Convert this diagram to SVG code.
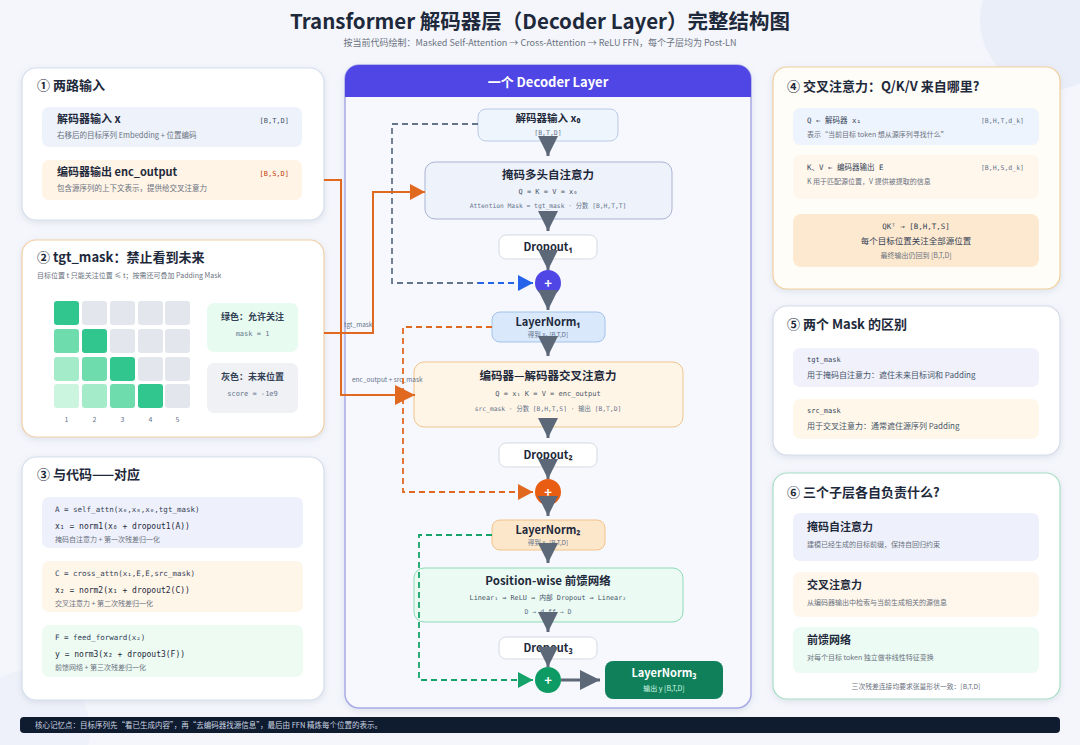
<svg xmlns="http://www.w3.org/2000/svg" width="1080" height="745" viewBox="0 0 1080 745">
<style>
text{font-family:"Noto Sans CJK SC","Noto Sans",sans-serif;fill:#1e293b}
.m{font-family:"DejaVu Sans Mono","Liberation Mono","Noto Sans CJK SC",monospace}
.pt{font-size:13px;font-weight:700}
.st{font-size:11px;font-weight:700}
.d{font-size:7.5px;fill:#6b7280}
.sm{font-size:7px;fill:#64748b}
.c{text-anchor:middle}
.r{text-anchor:end}
.panel{fill:#ffffff;stroke-width:1.2}
.nt{font-size:11.5px;font-weight:700;text-anchor:middle}
.flow{stroke:#5c6778;stroke-width:3;fill:none;marker-end:url(#ag)}
.inp{stroke:#e0691f;stroke-width:2;fill:none}
</style>
<defs>
<marker id="ag" markerUnits="userSpaceOnUse" markerWidth="22" markerHeight="22" viewBox="0 0 22 22" refX="20" refY="11" orient="auto"><path d="M0,1 L20,11 L0,21 z" fill="#5c6778"/></marker>
<marker id="ab" markerUnits="userSpaceOnUse" markerWidth="16" markerHeight="16" viewBox="0 0 16 16" refX="15" refY="8" orient="auto"><path d="M0,0 L15,8 L0,16 z" fill="#2563eb"/></marker>
<marker id="ao" markerUnits="userSpaceOnUse" markerWidth="16" markerHeight="16" viewBox="0 0 16 16" refX="15" refY="8" orient="auto"><path d="M0,0 L15,8 L0,16 z" fill="#e0691f"/></marker>
<marker id="aoL" markerUnits="userSpaceOnUse" markerWidth="22" markerHeight="22" viewBox="0 0 22 22" refX="20" refY="11" orient="auto"><path d="M0,1 L20,11 L0,21 z" fill="#e0691f"/></marker>
<marker id="agr" markerUnits="userSpaceOnUse" markerWidth="16" markerHeight="16" viewBox="0 0 16 16" refX="15" refY="8" orient="auto"><path d="M0,0 L15,8 L0,16 z" fill="#16a36a"/></marker>
<filter id="sh" x="-10%" y="-10%" width="120%" height="125%"><feDropShadow dx="0" dy="2" stdDeviation="3" flood-color="#94a3b8" flood-opacity="0.25"/></filter>
</defs>

<rect width="1080" height="745" fill="#f4f6fb"/>
<circle cx="1050" cy="20" r="70" fill="#e6ebf7" opacity="0.7"/>
<circle cx="30" cy="730" r="60" fill="#e9eef8" opacity="0.6"/>

<g id="title">
<text x="540" y="29" class="c" style="font-size:20.5px;font-weight:700">Transformer 解码器层（Decoder Layer）完整结构图</text>
<text x="540" y="46" class="c" style="font-size:9px;fill:#6b7280">按当前代码绘制：Masked Self-Attention → Cross-Attention → ReLU FFN，每个子层均为 Post-LN</text>
</g>

<!-- Panel 1 -->
<g id="panel-inputs">
<rect x="22" y="68" width="302" height="152" rx="14" class="panel" stroke="#d6deec" filter="url(#sh)"/>
<text x="37" y="90" class="pt">① 两路输入</text>
<rect x="42" y="107" width="260" height="40" rx="7" fill="#edf2fb"/>
<text x="57" y="123" class="st">解码器输入 x</text>
<text x="289" y="123" class="m r" style="font-size:7px;fill:#475569">[B,T,D]</text>
<text x="57" y="138" class="d">右移后的目标序列 Embedding + 位置编码</text>
<rect x="42" y="160" width="260" height="40" rx="7" fill="#fff4e6"/>
<text x="57" y="176" class="st">编码器输出 enc_output</text>
<text x="289" y="176" class="m r" style="font-size:7px;fill:#c2410c">[B,S,D]</text>
<text x="57" y="191" class="d">包含源序列的上下文表示，提供给交叉注意力</text>
</g>

<!-- Panel 2 -->
<g id="panel-mask">
<rect x="22" y="240" width="302" height="197" rx="14" class="panel" stroke="#f2cfa6" filter="url(#sh)"/>
<text x="37" y="262" class="pt">② tgt_mask：禁止看到未来</text>
<text x="37" y="278" class="d" style="font-size:7px">目标位置 t 只能关注位置 ≤ t；按需还可叠加 Padding Mask</text>
<g>
<rect x="54" y="301" width="25" height="24" rx="3" fill="#31c68d"/>
<rect x="82" y="301" width="25" height="24" rx="3" fill="#e3e6ec"/>
<rect x="110" y="301" width="25" height="24" rx="3" fill="#e3e6ec"/>
<rect x="138" y="301" width="25" height="24" rx="3" fill="#e3e6ec"/>
<rect x="165" y="301" width="25" height="24" rx="3" fill="#e3e6ec"/>
<rect x="54" y="329" width="25" height="24" rx="3" fill="#6fdcae"/>
<rect x="82" y="329" width="25" height="24" rx="3" fill="#31c68d"/>
<rect x="110" y="329" width="25" height="24" rx="3" fill="#e3e6ec"/>
<rect x="138" y="329" width="25" height="24" rx="3" fill="#e3e6ec"/>
<rect x="165" y="329" width="25" height="24" rx="3" fill="#e3e6ec"/>
<rect x="54" y="357" width="25" height="24" rx="3" fill="#a4ebca"/>
<rect x="82" y="357" width="25" height="24" rx="3" fill="#6fdcae"/>
<rect x="110" y="357" width="25" height="24" rx="3" fill="#31c68d"/>
<rect x="138" y="357" width="25" height="24" rx="3" fill="#e3e6ec"/>
<rect x="165" y="357" width="25" height="24" rx="3" fill="#e3e6ec"/>
<rect x="54" y="384" width="25" height="24" rx="3" fill="#cbf5df"/>
<rect x="82" y="384" width="25" height="24" rx="3" fill="#a4ebca"/>
<rect x="110" y="384" width="25" height="24" rx="3" fill="#6fdcae"/>
<rect x="138" y="384" width="25" height="24" rx="3" fill="#31c68d"/>
<rect x="165" y="384" width="25" height="24" rx="3" fill="#e3e6ec"/>
</g>
<text x="66.5" y="422" class="c sm">1</text>
<text x="94.5" y="422" class="c sm">2</text>
<text x="122.5" y="422" class="c sm">3</text>
<text x="150.5" y="422" class="c sm">4</text>
<text x="177.5" y="422" class="c sm">5</text>
<rect x="207" y="303" width="91" height="49" rx="7" fill="#e8fbf1"/>
<text x="252.5" y="320" class="c" style="font-size:9px;font-weight:700;fill:#334155">绿色：允许关注</text>
<text x="252.5" y="336" class="c m sm">mask = 1</text>
<rect x="207" y="363" width="91" height="50" rx="7" fill="#eff1f5"/>
<text x="252.5" y="380" class="c" style="font-size:9px;font-weight:700;fill:#334155">灰色：未来位置</text>
<text x="252.5" y="396" class="c m sm">score = -1e9</text>
</g>

<!-- Panel 3 -->
<g id="panel-code">
<rect x="22" y="457" width="302" height="243" rx="14" class="panel" stroke="#d6deec" filter="url(#sh)"/>
<text x="37" y="479" class="pt">③ 与代码——对应</text>
<rect x="42" y="497" width="261" height="51" rx="7" fill="#eef1fb"/>
<text x="55" y="512" class="m" style="font-size:7.5px;fill:#334155">A = self_attn(x₀,x₀,x₀,tgt_mask)</text>
<text x="55" y="529" class="m" style="font-size:8px;fill:#1e293b">x₁ = norm1(x₀ + dropout1(A))</text>
<text x="55" y="542" class="d" style="font-size:7px">掩码自注意力 + 第一次残差归一化</text>
<rect x="42" y="561" width="261" height="51" rx="7" fill="#fff6ea"/>
<text x="55" y="576" class="m" style="font-size:7.5px;fill:#334155">C = cross_attn(x₁,E,E,src_mask)</text>
<text x="55" y="593" class="m" style="font-size:8px;fill:#1e293b">x₂ = norm2(x₁ + dropout2(C))</text>
<text x="55" y="606" class="d" style="font-size:7px">交叉注意力 + 第二次残差归一化</text>
<rect x="42" y="625" width="261" height="52" rx="7" fill="#edfbf3"/>
<text x="55" y="640" class="m" style="font-size:7.5px;fill:#334155">F = feed_forward(x₂)</text>
<text x="55" y="657" class="m" style="font-size:8px;fill:#1e293b">y = norm3(x₂ + dropout3(F))</text>
<text x="55" y="670" class="d" style="font-size:7px">前馈网络 + 第三次残差归一化</text>
</g>

<!-- Center panel -->
<g id="decoder-layer">
<rect x="345" y="65" width="406" height="643" rx="14" fill="#f7f8fd" stroke="#a9abe6" stroke-width="1.5" filter="url(#sh)"/>
<path d="M345,97 V79 a14,14 0 0 1 14,-14 H737 a14,14 0 0 1 14,14 V97 Z" fill="#4f46e5"/>
<text x="548" y="87" class="c" style="font-size:13px;font-weight:700;fill:#ffffff">一个 Decoder Layer</text>
</g>

<g id="n-input">
<rect x="478" y="109" width="140" height="32" rx="8" fill="#eef5fd" stroke="#b9cbe6"/>
<text x="548" y="122" class="c" style="font-size:10.5px;font-weight:700">解码器输入 x₀</text>
<text x="548" y="135" class="c m" style="font-size:6.5px;fill:#64748b">[B,T,D]</text>
</g>
<g id="n-selfattn">
<rect x="425" y="162" width="247" height="57" rx="10" fill="#eef2fb" stroke="#a9b3d2"/>
<text x="548" y="179" class="nt">掩码多头自注意力</text>
<text x="548" y="194" class="c m" style="font-size:7px;fill:#475569">Q = K = V = x₀</text>
<text x="548" y="208" class="c m" style="font-size:6.3px;fill:#64748b">Attention Mask = tgt_mask · 分数 [B,H,T,T]</text>
</g>
<g id="n-drop1">
<rect x="499" y="235" width="98" height="24" rx="7" fill="#ffffff" stroke="#d5d9e0"/>
<text x="548" y="251" class="c" style="font-size:11px;font-weight:700">Dropout₁</text>
</g>
<g id="n-add1">
<circle cx="548" cy="283" r="13" fill="#4f46e5"/>
<text x="548" y="287.5" class="c" style="font-size:13px;font-weight:700;fill:#ffffff">+</text>
</g>
<g id="n-ln1">
<rect x="492" y="312" width="113" height="30" rx="8" fill="#d9e8fb" stroke="#a3c2ea"/>
<text x="548" y="326" class="c" style="font-size:11px;font-weight:700">LayerNorm₁</text>
<text x="548" y="337" class="c" style="font-size:6.5px;fill:#64748b">得到 x₁ [B,T,D]</text>
</g>
<g id="n-crossattn">
<rect x="414" y="362" width="269" height="65" rx="10" fill="#fff5e6" stroke="#efc58c"/>
<text x="548" y="380" class="nt">编码器—解码器交叉注意力</text>
<text x="548" y="396" class="c m" style="font-size:7px;fill:#475569">Q = x₁    K = V = enc_output</text>
<text x="548" y="411" class="c m" style="font-size:6.3px;fill:#64748b">src_mask · 分数 [B,H,T,S] · 输出 [B,T,D]</text>
</g>
<g id="n-drop2">
<rect x="499" y="443" width="98" height="24" rx="7" fill="#ffffff" stroke="#d5d9e0"/>
<text x="548" y="459" class="c" style="font-size:11px;font-weight:700">Dropout₂</text>
</g>
<g id="n-add2">
<circle cx="548" cy="492" r="13" fill="#e85d12"/>
<text x="548" y="496.5" class="c" style="font-size:13px;font-weight:700;fill:#ffffff">+</text>
</g>
<g id="n-ln2">
<rect x="492" y="520" width="113" height="30" rx="8" fill="#fde7cb" stroke="#f2c38a"/>
<text x="548" y="534" class="c" style="font-size:11px;font-weight:700">LayerNorm₂</text>
<text x="548" y="545" class="c" style="font-size:6.5px;fill:#64748b">得到 x₂ [B,T,D]</text>
</g>
<g id="n-ffn">
<rect x="414" y="568" width="269" height="54" rx="10" fill="#ebfbf3" stroke="#8edbb7"/>
<text x="548" y="585" class="nt">Position-wise 前馈网络</text>
<text x="548" y="600" class="c m" style="font-size:6.8px;fill:#475569">Linear₁ → ReLU → 内部 Dropout → Linear₂</text>
<text x="548" y="614" class="c m" style="font-size:6.5px;fill:#64748b">D → d_ff → D</text>
</g>
<g id="n-drop3">
<rect x="499" y="637" width="98" height="22" rx="7" fill="#ffffff" stroke="#d5d9e0"/>
<text x="548" y="652" class="c" style="font-size:11px;font-weight:700">Dropout₃</text>
</g>
<g id="n-add3">
<circle cx="548" cy="680" r="13" fill="#0d9a63"/>
<text x="548" y="684.5" class="c" style="font-size:13px;font-weight:700;fill:#ffffff">+</text>
</g>
<g id="n-ln3">
<rect x="605" y="661" width="118" height="38" rx="8" fill="#10805a"/>
<text x="664" y="677" class="c" style="font-size:11px;font-weight:700;fill:#ffffff">LayerNorm₃</text>
<text x="664" y="691" class="c" style="font-size:7px;fill:#d1fae5">输出 y [B,T,D]</text>
</g>

<g id="connectors">
<!-- residual skips -->
<path d="M478,124 H392 V283 H480" fill="none" stroke="#64748b" stroke-width="1.8" stroke-dasharray="6,4"/>
<path d="M478,283 H533" fill="none" stroke="#2563eb" stroke-width="1.8" stroke-dasharray="6,4" marker-end="url(#ab)"/>
<path d="M492,327 H403 V492 H533" fill="none" stroke="#e0691f" stroke-width="1.8" stroke-dasharray="6,4" marker-end="url(#ao)"/>
<path d="M492,535 H419 V680 H533" fill="none" stroke="#16a36a" stroke-width="1.8" stroke-dasharray="6,4" marker-end="url(#agr)"/>
<!-- inputs from left -->
<path d="M324,333 H373 V192 H425" class="inp" marker-end="url(#ao)"/>
<path d="M324,180 H341 V395 H415" class="inp" marker-end="url(#aoL)"/>
<text x="344" y="327" style="font-size:6.5px;fill:#64748b">tgt_mask</text>
<text x="352" y="382" style="font-size:6.5px;fill:#64748b">enc_output + src_mask</text>
<!-- main flow -->
<line x1="548" y1="136" x2="548" y2="156" class="flow"/>
<line x1="548" y1="211" x2="548" y2="231" class="flow"/>
<line x1="548" y1="250" x2="548" y2="270" class="flow"/>
<line x1="548" y1="292" x2="548" y2="310" class="flow"/>
<line x1="548" y1="336" x2="548" y2="356" class="flow"/>
<line x1="548" y1="418" x2="548" y2="438" class="flow"/>
<line x1="548" y1="459" x2="548" y2="479" class="flow"/>
<line x1="548" y1="497" x2="548" y2="516" class="flow"/>
<line x1="548" y1="543" x2="548" y2="563" class="flow"/>
<line x1="548" y1="612" x2="548" y2="632" class="flow"/>
<line x1="548" y1="647" x2="548" y2="667" class="flow"/>
<line x1="561" y1="680" x2="600" y2="680" class="flow"/>
</g>

<!-- Panel 4 -->
<g id="panel-qkv">
<rect x="773" y="67" width="287" height="222" rx="14" fill="#fffdf8" stroke="#f2cf9c" stroke-width="1.2" filter="url(#sh)"/>
<text x="787" y="91" class="pt">④ 交叉注意力：Q/K/V 来自哪里?</text>
<rect x="793" y="108" width="246" height="37" rx="7" fill="#eef4fd"/>
<text x="807" y="123" class="m" style="font-size:7.5px;fill:#334155">Q ← 解码器 x₁</text>
<text x="1024" y="123" class="m r" style="font-size:6.5px;fill:#64748b">[B,H,T,d_k]</text>
<text x="807" y="137" class="d" style="font-size:7px">表示“当前目标 token 想从源序列寻找什么”</text>
<rect x="793" y="155" width="246" height="44" rx="7" fill="#fff7ec"/>
<text x="807" y="170" class="m" style="font-size:7.5px;fill:#334155">K、V ← 编码器输出 E</text>
<text x="1024" y="170" class="m r" style="font-size:6.5px;fill:#64748b">[B,H,S,d_k]</text>
<text x="807" y="184" class="d" style="font-size:7px">K 用于匹配源位置，V 提供被提取的信息</text>
<rect x="793" y="214" width="246" height="53" rx="8" fill="#fde9cf"/>
<text x="916" y="229" class="c m" style="font-size:7.5px;fill:#334155">QKᵀ → [B,H,T,S]</text>
<text x="916" y="244" class="c" style="font-size:8.5px;fill:#334155">每个目标位置关注全部源位置</text>
<text x="916" y="258" class="c d" style="font-size:7px">最终输出仍回到 [B,T,D]</text>
</g>

<!-- Panel 5 -->
<g id="panel-masks">
<rect x="773" y="306" width="287" height="149" rx="14" class="panel" stroke="#d6dbe8" filter="url(#sh)"/>
<text x="787" y="329" class="pt">⑤ 两个 Mask 的区别</text>
<rect x="793" y="348" width="246" height="39" rx="7" fill="#f0f1fb"/>
<text x="807" y="362" class="m" style="font-size:7px;fill:#334155">tgt_mask</text>
<text x="807" y="378" style="font-size:8px;fill:#475569">用于掩码自注意力：遮住未来目标词和 Padding</text>
<rect x="793" y="399" width="246" height="40" rx="7" fill="#fff8ea"/>
<text x="807" y="413" class="m" style="font-size:7px;fill:#334155">src_mask</text>
<text x="807" y="429" style="font-size:8px;fill:#475569">用于交叉注意力：通常遮住源序列 Padding</text>
</g>

<!-- Panel 6 -->
<g id="panel-roles">
<rect x="773" y="473" width="287" height="226" rx="14" class="panel" stroke="#a8dec6" filter="url(#sh)"/>
<text x="787" y="497" class="pt">⑥ 三个子层各自负责什么?</text>
<rect x="793" y="513" width="246" height="48" rx="7" fill="#eef1fb"/>
<text x="807" y="531" class="st">掩码自注意力</text>
<text x="807" y="547" class="d" style="font-size:7px">建模已经生成的目标前缀，保持自回归约束</text>
<rect x="793" y="572" width="246" height="45" rx="7" fill="#fff7ec"/>
<text x="807" y="589" class="st">交叉注意力</text>
<text x="807" y="605" class="d" style="font-size:7px">从编码器输出中检索与当前生成相关的源信息</text>
<rect x="793" y="627" width="246" height="46" rx="7" fill="#ecfbf3"/>
<text x="807" y="644" class="st">前馈网络</text>
<text x="807" y="660" class="d" style="font-size:7px">对每个目标 token 独立做非线性特征变换</text>
<text x="916" y="689" class="c d" style="font-size:6.8px">三次残差连接均要求张量形状一致：[B,T,D]</text>
</g>

<!-- Bottom bar -->
<g id="footer">
<rect x="20" y="717" width="1040" height="16" rx="4" fill="#0f1b2e"/>
<text x="35" y="728" style="font-size:7.5px;fill:#cbd5e1">核心记忆点：目标序列先“看已生成内容”，再“去编码器找源信息”，最后由 FFN 精炼每个位置的表示。</text>
</g>
</svg>
